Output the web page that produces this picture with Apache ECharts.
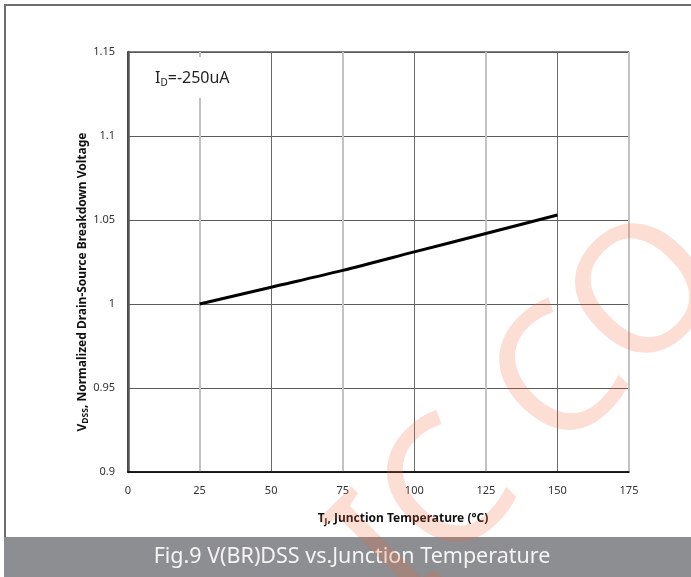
<!DOCTYPE html>
<html>
<head>
<meta charset="utf-8">
<script src="https://cdn.jsdelivr.net/npm/echarts@6/dist/echarts.min.js"></script>
<style>
  html, body { margin: 0; padding: 0; background: #fff; }
  #chart { width: 691px; height: 577px; }
</style>
</head>
<body>
<div id="chart"></div>
<script>
// data
var tempC = [25, 50, 75, 100, 125, 150];
var bvNorm = [1.0, 1.010, 1.020, 1.031, 1.042, 1.053];
var xTicks = [0, 25, 50, 75, 100, 125, 150, 175];
var yTicks = [0.9, 0.95, 1, 1.05, 1.1, 1.15];

var chart = echarts.init(document.getElementById('chart'));
var font = '"Noto Sans", sans-serif';

var option = {
  animation: false,
  grid: {
    left: 128, right: 62, top: 52, bottom: 105,
    show: true, borderColor: '#000', borderWidth: 1
  },
  xAxis: [{
    type: 'value', min: xTicks[0], max: xTicks[xTicks.length - 1], interval: 25,
    axisLine: { lineStyle: { color: '#000', width: 1.5 } },
    axisTick: { show: false },
    axisLabel: { margin: 13, color: '#333', fontSize: 11, fontFamily: font },
    splitLine: { lineStyle: { color: ['#6a6a6a', 'transparent'], width: 1 } }
  }, {
    // second pass for the light gridlines at 25/75/125
    type: 'value', min: xTicks[0], max: xTicks[xTicks.length - 1], interval: 25,
    position: 'top',
    axisLine: { show: false }, axisTick: { show: false }, axisLabel: { show: false },
    splitLine: { lineStyle: { color: ['transparent', '#c2c2c2'], width: 2 } }
  }],
  yAxis: [{
    type: 'value', min: yTicks[0], max: yTicks[yTicks.length - 1], interval: 0.05,
    axisLine: { show: true, lineStyle: { color: '#000', width: 1.5 } },
    axisTick: { show: false },
    axisLabel: { margin: 13, color: '#333', fontSize: 11, fontFamily: font },
    splitLine: { lineStyle: { color: '#5a5a5a', width: 1 } }
  }, {
    type: 'value', min: yTicks[0], max: yTicks[yTicks.length - 1], interval: 0.05,
    position: 'right',
    axisLine: { show: true, lineStyle: { color: '#555', width: 2.5 } },
    axisTick: { show: false }, axisLabel: { show: false }, splitLine: { show: false }
  }],
  series: [{
    type: 'line',
    data: tempC.map(function (t, i) { return [t, bvNorm[i]]; }),
    smooth: 0.3,
    symbol: 'none',
    lineStyle: { color: '#000', width: 3 },
    z: 5
  }],
  graphic: [
    // outer frame
    { type: 'rect', shape: { x: 5, y: 5, width: 720, height: 600 },
      style: { fill: 'none', stroke: '#6e6e6e', lineWidth: 2 }, z: 1 },
    // test condition label with white box over the gridline
    { type: 'rect', shape: { x: 148, y: 57, width: 84, height: 41 },
      style: { fill: '#fff' }, z: 10 },
    { type: 'text', x: 155, y: 78, z: 11,
      style: {
        text: '{m|I}{s|D}{m|=-250uA}',
        verticalAlign: 'middle',
        rich: {
          m: { fontSize: 16, fontFamily: font, fill: '#222', lineHeight: 20 },
          s: { fontSize: 10, fontFamily: font, fill: '#222', lineHeight: 20, verticalAlign: 'bottom', padding: [8, 0, 0, 0] }
        }
      } },
    // y axis title
    { type: 'text', x: 83, y: 282, rotation: Math.PI / 2, z: 11,
      style: {
        text: '{m|V}{s|DSS}{m|, Normalized Drain-Source Breakdown Voltage}',
        align: 'center', verticalAlign: 'middle',
        rich: {
          m: { fontSize: 12, fontWeight: 'bold', fontFamily: font, fill: '#111', lineHeight: 16 },
          s: { fontSize: 8.5, fontWeight: 'bold', fontFamily: font, fill: '#111', lineHeight: 16, padding: [6, 0, 0, 0] }
        }
      } },
    // x axis title
    { type: 'text', x: 403, y: 519, z: 11,
      style: {
        text: '{m|T}{s|J}{m|, Junction Temperature (\u00B0C)}',
        align: 'center', verticalAlign: 'middle',
        rich: {
          m: { fontSize: 12, fontWeight: 'bold', fontFamily: font, fill: '#111', lineHeight: 16 },
          s: { fontSize: 8.5, fontWeight: 'bold', fontFamily: font, fill: '#111', lineHeight: 16, padding: [6, 0, 0, 0] }
        }
      } },
    // caption banner
    { type: 'rect', shape: { x: 4, y: 537, width: 700, height: 45 },
      style: { fill: '#8d8e91' }, z: 12 },
    { type: 'text', x: 352, y: 557, z: 13,
      style: {
        text: 'Fig.9 V(BR)DSS vs.Junction Temperature',
        align: 'center', verticalAlign: 'middle',
        fontSize: 21.5, fontFamily: font, fill: '#f4f4f4'
      } },
    // watermark
    { type: 'text', x: 368, y: 578, rotation: Math.PI / 4, z: 20, silent: true,
      style: {
        text: 'IC CO',
        verticalAlign: 'middle',
        fontSize: 178, fontFamily: font, fill: 'rgba(242,100,50,0.21)'
      } }
  ]
};
chart.setOption(option);
</script>
</body>
</html>
